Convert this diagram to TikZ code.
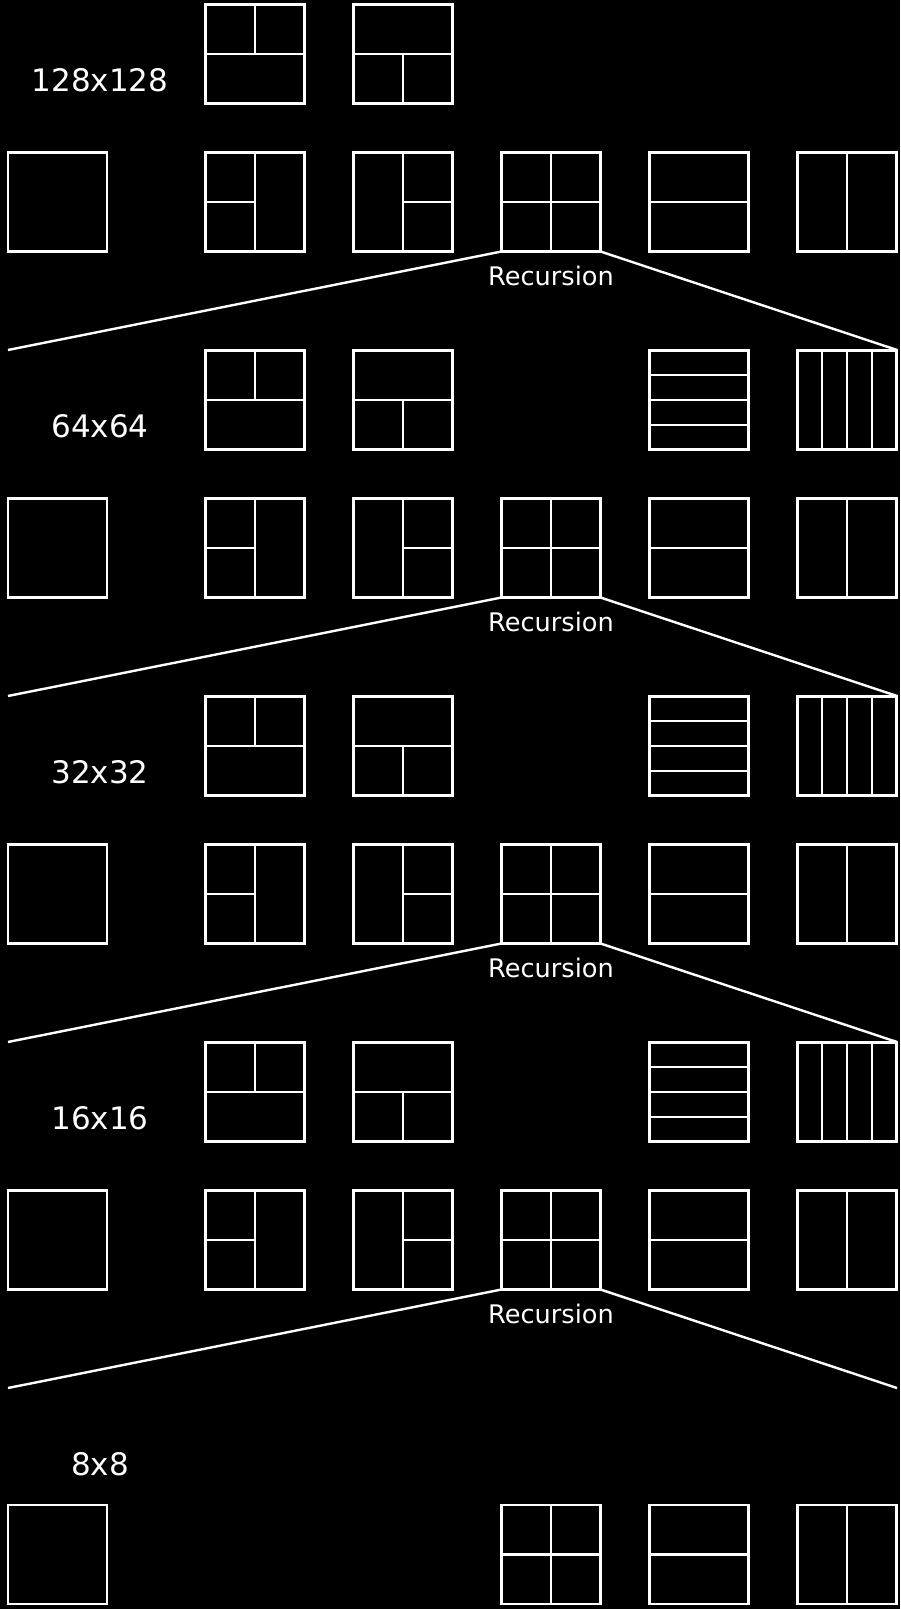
\documentclass[tikz,border=0pt]{standalone}
\usepackage{fontspec}
\setmainfont{DejaVu Sans}
\usetikzlibrary{calc}
\begin{document}
\begin{tikzpicture}[x=1pt,y=-1pt,
  cell/.style={draw=white, line width=2.4pt, minimum width=99pt, minimum height=99pt, inner sep=0pt, outer sep=0pt},
  sub/.style={draw=white, line width=2.4pt},
  lbl/.style={text=white, inner sep=0pt, font=\fontsize{31}{31}\selectfont},
  rec/.style={text=white, inner sep=0pt, font=\fontsize{25.6}{26}\selectfont}]
\fill[black] (0,0) rectangle (900,1609);
\useasboundingbox (0,0) rectangle (900,1609);
\foreach \lv [count=\j] in {128x128,64x64,32x32,16x16}{
  \pgfmathtruncatemacro{\i}{\j-1}
  \pgfmathsetmacro{\yt}{54+346*\i}
  \pgfmathsetmacro{\yb}{202+346*\i}
  \pgfmathsetmacro{\yl}{80+346*\i}
  \pgfmathsetmacro{\yr}{276+346*\i}
  \pgfmathsetmacro{\yn}{350+346*\i}
  \node[lbl] (L\i) at (100,\yl) {\lv};
  % top row
  \node[cell] (T\i-1) at (255,\yt) {};
  \draw[sub] (T\i-1.west) -- (T\i-1.east);
  \draw[sub] (T\i-1.north) -- (T\i-1.center);
  \node[cell] (T\i-2) at (403,\yt) {};
  \draw[sub] (T\i-2.west) -- (T\i-2.east);
  \draw[sub] (T\i-2.center) -- (T\i-2.south);
  \ifnum\i>0
    \node[cell] (T\i-4) at (699,\yt) {};
    \foreach \f in {0.25,0.5,0.75}{
      \draw[sub] ($(T\i-4.north west)!\f!(T\i-4.south west)$) -- ($(T\i-4.north east)!\f!(T\i-4.south east)$);
    }
    \node[cell] (T\i-5) at (847,\yt) {};
    \foreach \f in {0.25,0.5,0.75}{
      \draw[sub] ($(T\i-5.north west)!\f!(T\i-5.north east)$) -- ($(T\i-5.south west)!\f!(T\i-5.south east)$);
    }
  \fi
  % bottom row
  \node[cell] (B\i-0) at (57.5,\yb) {};
  \node[cell] (B\i-1) at (255,\yb) {};
  \draw[sub] (B\i-1.north) -- (B\i-1.south);
  \draw[sub] (B\i-1.west) -- (B\i-1.center);
  \node[cell] (B\i-2) at (403,\yb) {};
  \draw[sub] (B\i-2.north) -- (B\i-2.south);
  \draw[sub] (B\i-2.center) -- (B\i-2.east);
  \node[cell] (B\i-3) at (551,\yb) {};
  \draw[sub] (B\i-3.north) -- (B\i-3.south);
  \draw[sub] (B\i-3.west) -- (B\i-3.east);
  \node[cell] (B\i-4) at (699,\yb) {};
  \draw[sub] (B\i-4.west) -- (B\i-4.east);
  \node[cell] (B\i-5) at (847,\yb) {};
  \draw[sub] (B\i-5.north) -- (B\i-5.south);
  % recursion
  \node[rec] (R\i) at (551,\yr) {Recursion};
  \coordinate (NL\i) at (8,\yn);
  \coordinate (NR\i) at (897,\yn);
  \draw[sub] (B\i-3.south west) -- (NL\i);
  \draw[sub] (B\i-3.south east) -- (NR\i);
}
% last level 8x8
\node[lbl] (L4) at (100,1464) {8x8};
\node[cell] (B4-0) at (57.5,1554.5) {};
\node[cell] (B4-3) at (551,1554.5) {};
\draw[sub] (B4-3.north) -- (B4-3.south);
\draw[sub] (B4-3.west) -- (B4-3.east);
\node[cell] (B4-4) at (699,1554.5) {};
\draw[sub] (B4-4.west) -- (B4-4.east);
\node[cell] (B4-5) at (847,1554.5) {};
\draw[sub] (B4-5.north) -- (B4-5.south);
\end{tikzpicture}
\end{document}
